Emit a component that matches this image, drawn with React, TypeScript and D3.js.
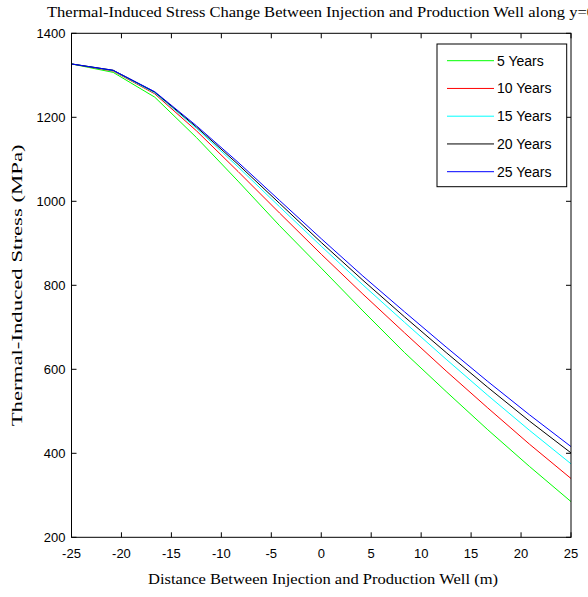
import React from "react";
import * as d3 from "d3";

const distances = [-25, -20.83, -16.67, -12.5, -8.33, -4.17, 0, 4.17, 8.33, 12.5, 16.67, 20.83, 25];
const years5 = [1327, 1307, 1248, 1152, 1048, 942, 841, 739, 640, 547, 456, 369, 285];
const years10 = [1327, 1310, 1256, 1168, 1071, 972, 874, 779, 687, 596, 508, 422, 340];
const years15 = [1327, 1311, 1258, 1174, 1082, 987, 893, 801, 712, 624, 538, 455, 375];
const years20 = [1327, 1312, 1260, 1177, 1088, 995, 902, 812, 725, 640, 557, 477, 401];
const years25 = [1327, 1312, 1261, 1180, 1093, 1002, 911, 822, 737, 653, 571, 492, 416];
const seriesNames = ["5 Years", "10 Years", "15 Years", "20 Years", "25 Years"];
const seriesColors = ["#00ff00", "#ff0000", "#00ffff", "#000000", "#0000ff"];
const xTicks = [-25, -20, -15, -10, -5, 0, 5, 10, 15, 20, 25];
const yTicks = [200, 400, 600, 800, 1000, 1200, 1400];

const title = "Thermal-Induced Stress Change Between Injection and Production Well along y=0";
const xLabel = "Distance Between Injection and Production Well (m)";
const yLabel = "Thermal-Induced Stress (MPa)";

export default function App() {
  const W = 588, H = 597;
  const left = 71.5, right = 571, top = 33.3, bottom = 537.3;
  const x = d3.scaleLinear().domain([-25, 25]).range([left, right]);
  const y = d3.scaleLinear().domain([200, 1400]).range([bottom, top]);
  const all = [years5, years10, years15, years20, years25];
  const line = d3
    .line<number>()
    .x((_, i) => x(distances[i]))
    .y((d) => y(d));
  const tick = 5;
  const sans = "'Liberation Sans', Arial, sans-serif";
  const serif = "'Liberation Serif', 'Times New Roman', serif";
  const legX = 437, legY = 44, legW = 129.7, legH = 142.7;
  const rowY = (i: number) => 60.7 + i * 27.75;

  return (
    <svg width={W} height={H} style={{ position: "absolute", left: 0, top: 0, background: "#fff" }}>
      <rect x={0} y={0} width={W} height={H} fill="#fff" />
      {all.map((s, i) => (
        <path key={i} d={line(s) || ""} fill="none" stroke={seriesColors[i]} strokeWidth={1} />
      ))}
      {/* axes box */}
      <rect x={left} y={top} width={right - left} height={bottom - top} fill="none" stroke="#000" strokeWidth={1} />
      {xTicks.map((t) => (
        <g key={"x" + t}>
          <line x1={x(t)} x2={x(t)} y1={bottom} y2={bottom - tick} stroke="#000" />
          <line x1={x(t)} x2={x(t)} y1={top} y2={top + tick} stroke="#000" />
          <text x={x(t)} y={bottom + 21} textAnchor="middle" fontFamily={sans} fontSize={13}>
            {t}
          </text>
        </g>
      ))}
      {yTicks.map((t) => (
        <g key={"y" + t}>
          <line x1={left} x2={left + tick} y1={y(t)} y2={y(t)} stroke="#000" />
          <line x1={right} x2={right - tick} y1={y(t)} y2={y(t)} stroke="#000" />
          <text x={left - 6} y={y(t) + 5} textAnchor="end" fontFamily={sans} fontSize={13}>
            {t}
          </text>
        </g>
      ))}
      {/* legend */}
      <rect x={legX} y={legY} width={legW} height={legH} fill="#fff" stroke="#000" strokeWidth={1} />
      {seriesNames.map((n, i) => (
        <g key={n}>
          <line x1={447} x2={494} y1={rowY(i)} y2={rowY(i)} stroke={seriesColors[i]} strokeWidth={1} />
          <text x={497} y={rowY(i) + 5} fontFamily={sans} fontSize={14}>
            {n}
          </text>
        </g>
      ))}
      <text x={321} y={17} textAnchor="middle" fontFamily={serif} fontSize={14} textLength={548} lengthAdjust="spacingAndGlyphs">
        {title}
      </text>
      <text x={323} y={584} textAnchor="middle" fontFamily={serif} fontSize={14} textLength={350} lengthAdjust="spacingAndGlyphs">
        {xLabel}
      </text>
      <text
        transform={`translate(22, ${(top + bottom) / 2}) rotate(-90)`}
        textAnchor="middle"
        fontFamily={serif}
        fontSize={14}
        textLength={282}
        lengthAdjust="spacingAndGlyphs"
      >
        {yLabel}
      </text>
    </svg>
  );
}
